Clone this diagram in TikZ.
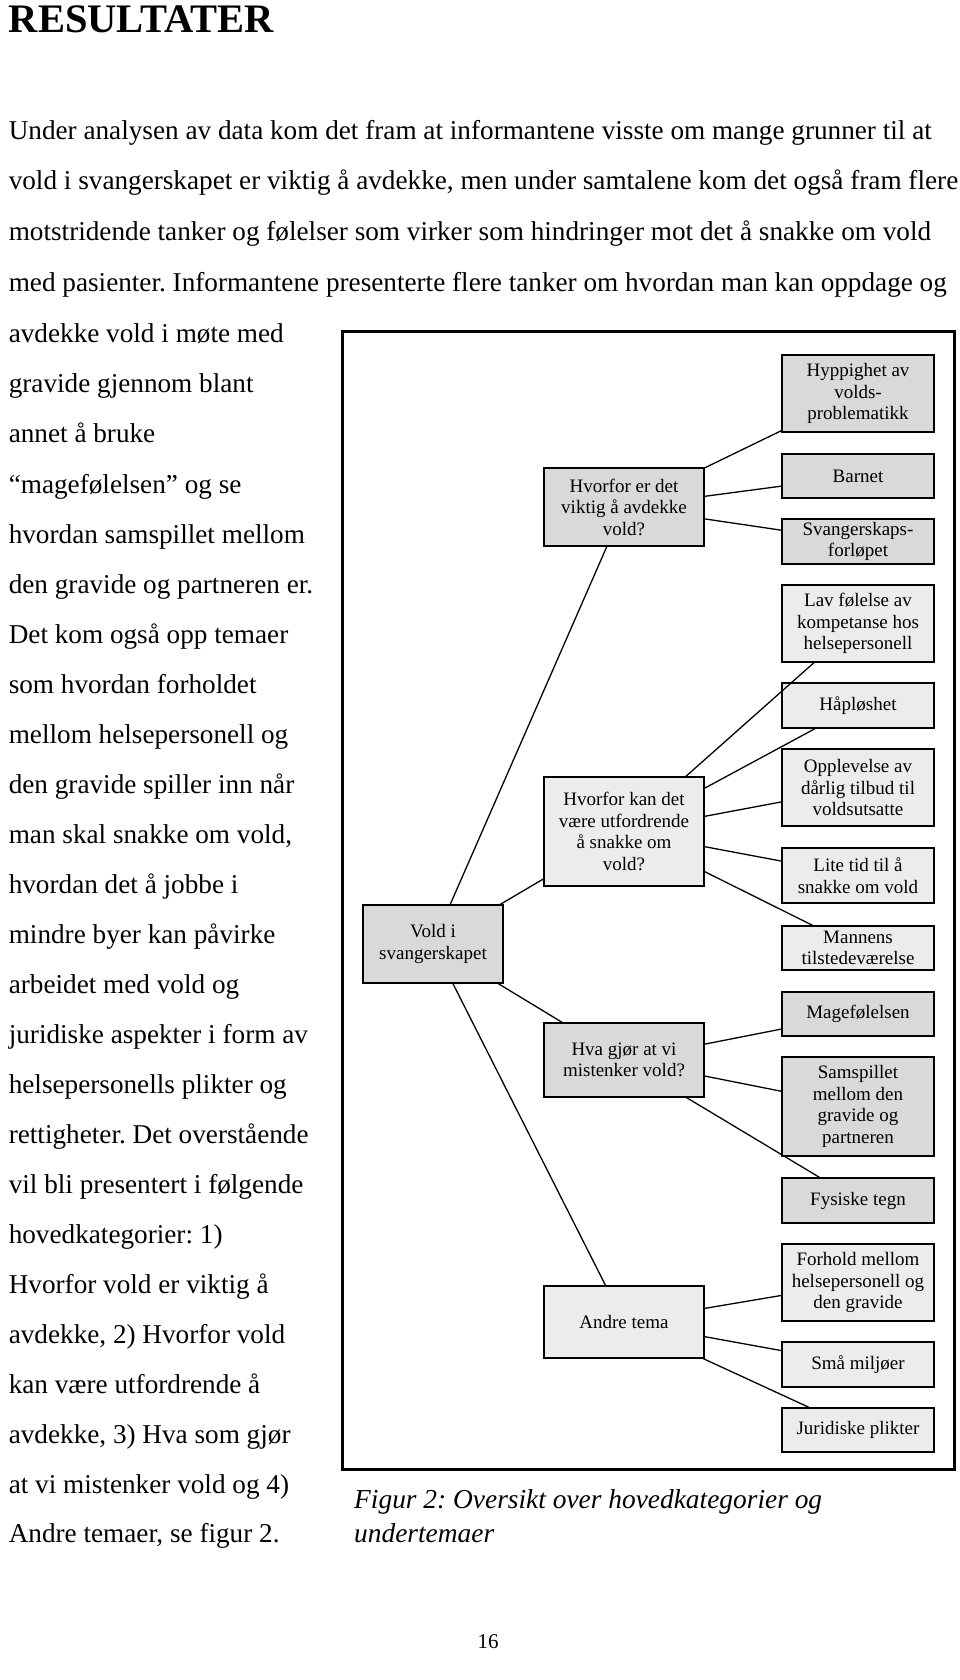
\documentclass[tikz,border=0pt]{standalone}
\usepackage{fontspec}
\setmainfont{Liberation Serif}
\frenchspacing

\newcommand{\bodyfont}{\fontsize{27.2}{50}\selectfont}
\newcommand{\titlefont}{\fontsize{40.5}{46}\selectfont\bfseries}
\newcommand{\capfont}{\fontsize{27.4}{34}\selectfont\itshape}
\newcommand{\boxfont}{\fontsize{19}{21.5}\selectfont}

\tikzset{
  box/.style={draw, line width=1.1pt, minimum width=152pt, align=center, font=\boxfont, inner sep=1pt},
  dark/.style={box, fill=gray!30},
  light/.style={box, fill=gray!15},
  tie/.style={line width=1.3pt},
  txt/.style={anchor=base west, inner sep=0pt, font=\bodyfont}
}

\begin{document}
\begin{tikzpicture}[x=1pt, y=-1pt]
  \useasboundingbox (0,0) rectangle (960,1680);

  \node[anchor=base west, inner sep=0pt, font=\titlefont] (title) at (8.6,33) {RESULTATER};

  \node[txt] (l0) at (8.6,140) {Under analysen av data kom det fram at informantene visste om mange grunner til at};
  \node[txt] (l1) at (8.6,190) {vold i svangerskapet er viktig å avdekke, men under samtalene kom det også fram flere};
  \node[txt] (l2) at (8.6,241) {motstridende tanker og følelser som virker som hindringer mot det å snakke om vold};
  \node[txt] (l3) at (8.6,291) {med pasienter. Informantene presenterte flere tanker om hvordan man kan oppdage og};
  \node[txt] (l4) at (8.6,342) {avdekke vold i møte med};
  \node[txt] (l5) at (8.6,392) {gravide gjennom blant};
  \node[txt] (l6) at (8.6,442) {annet å bruke};
  \node[txt] (l7) at (8.6,493) {“magefølelsen” og se};
  \node[txt] (l8) at (8.6,543) {hvordan samspillet mellom};
  \node[txt] (l9) at (8.6,593) {den gravide og partneren er.};
  \node[txt] (l10) at (8.6,643) {Det kom også opp temaer};
  \node[txt] (l11) at (8.6,693) {som hvordan forholdet};
  \node[txt] (l12) at (8.6,743) {mellom helsepersonell og};
  \node[txt] (l13) at (8.6,793) {den gravide spiller inn når};
  \node[txt] (l14) at (8.6,843) {man skal snakke om vold,};
  \node[txt] (l15) at (8.6,893) {hvordan det å jobbe i};
  \node[txt] (l16) at (8.6,943) {mindre byer kan påvirke};
  \node[txt] (l17) at (8.6,993) {arbeidet med vold og};
  \node[txt] (l18) at (8.6,1043) {juridiske aspekter i form av};
  \node[txt] (l19) at (8.6,1093) {helsepersonells plikter og};
  \node[txt] (l20) at (8.6,1143) {rettigheter. Det overstående};
  \node[txt] (l21) at (8.6,1193) {vil bli presentert i følgende};
  \node[txt] (l22) at (8.6,1243) {hovedkategorier: 1)};
  \node[txt] (l23) at (8.6,1293) {Hvorfor vold er viktig å};
  \node[txt] (l24) at (8.6,1343) {avdekke, 2) Hvorfor vold};
  \node[txt] (l25) at (8.6,1393) {kan være utfordrende å};
  \node[txt] (l26) at (8.6,1443) {avdekke, 3) Hva som gjør};
  \node[txt] (l27) at (8.6,1493) {at vi mistenker vold og 4)};
  \node[txt] (l28) at (8.6,1542) {Andre temaer, se figur 2.};

  \draw[line width=3pt] (342,331) rectangle (954,1469);

  % sub-themes
  \node[dark, minimum height=77pt] (freq) at (858,393.5) {Hyppighet av\\volds-\\problematikk};
  \node[dark, minimum height=44pt] (child) at (858,476) {Barnet};
  \node[dark, minimum height=45pt] (course) at (858,541.5) {Svangerskaps-\\forløpet};
  \node[light, minimum height=77pt] (comp) at (858,623.5) {Lav følelse av\\kompetanse hos\\helsepersonell};
  \node[light, minimum height=45pt] (hope) at (858,705.5) {Håpløshet};
  \node[light, minimum height=77pt] (offer) at (858,787.5) {Opplevelse av\\dårlig tilbud til\\voldsutsatte};
  \node[light, minimum height=55pt] (time) at (858,875.5) {Lite tid til å\\snakke om vold};
  \node[light, minimum height=44pt] (man) at (858,948) {Mannens\\tilstedeværelse};
  \node[dark, minimum height=44pt] (gut) at (858,1014) {Magefølelsen};
  \node[dark, minimum height=99pt] (inter) at (858,1106.5) {Samspillet\\mellom den\\gravide og\\partneren};
  \node[dark, minimum height=45pt] (signs) at (858,1200.5) {Fysiske tegn};
  \node[light, minimum height=77pt] (relat) at (858,1282.5) {Forhold mellom\\helsepersonell og\\den gravide};
  \node[light, minimum height=45pt] (small) at (858,1364.5) {Små miljøer};
  \node[light, minimum height=44pt] (legal) at (858,1430) {Juridiske plikter};

  % main categories
  \node[dark, minimum width=160pt, minimum height=78pt] (why) at (624,507) {Hvorfor er det\\viktig å avdekke\\vold?};
  \node[light, minimum width=160pt, minimum height=109pt] (hard) at (624,831.5) {Hvorfor kan det\\være utfordrende\\å snakke om\\vold?};
  \node[dark, minimum width=160pt, minimum height=74pt] (susp) at (624,1060) {Hva gjør at vi\\mistenker vold?};
  \node[light, minimum width=160pt, minimum height=72pt] (other) at (624,1322) {Andre tema};

  \node[dark, minimum width=140pt, minimum height=78pt] (root) at (433,944) {Vold i\\svangerskapet};

  \draw[tie] (root) to (why);
  \draw[tie] (root) to (hard);
  \draw[tie] (root) to (susp);
  \draw[tie] (root) to (other);

  \draw[tie] (why) to (freq);
  \draw[tie] (why) to (child);
  \draw[tie] (why) to (course);

  \draw[tie] (hard) to (comp);
  \draw[tie] (hard) to (hope);
  \draw[tie] (hard) to (offer);
  \draw[tie] (hard) to (time);
  \draw[tie] (hard) to (man);

  \draw[tie] (susp) to (gut);
  \draw[tie] (susp) to (inter);
  \draw[tie] (susp) to (signs);

  \draw[tie] (other) to (relat);
  \draw[tie] (other) to (small);
  \draw[tie] (other) to (legal);

  \node[anchor=base west, inner sep=0pt, font=\capfont] (cap1) at (354,1508) {Figur 2: Oversikt over hovedkategorier og};
  \node[anchor=base west, inner sep=0pt, font=\capfont] (cap2) at (354,1542) {undertemaer};

  \node[anchor=base, inner sep=0pt, font=\fontsize{21}{24}\selectfont] (page) at (488,1648) {16};
\end{tikzpicture}
\end{document}
